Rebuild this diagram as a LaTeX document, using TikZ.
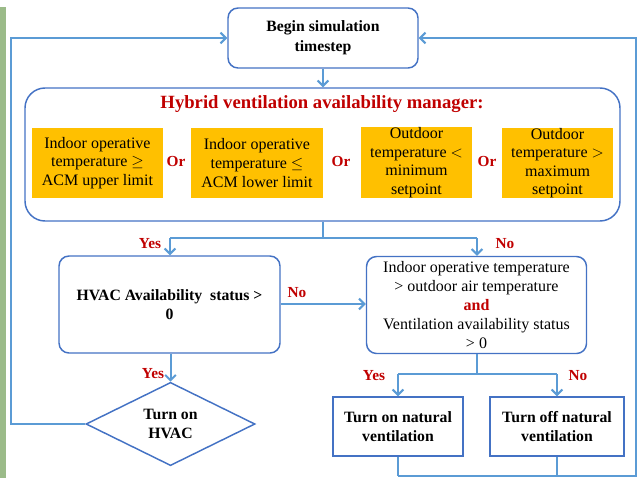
\documentclass[tikz,border=0pt]{standalone}
\usepackage{fontspec}
\setmainfont{Liberation Serif}
\usetikzlibrary{shapes.geometric,arrows.meta}
\definecolor{boxblue}{RGB}{68,114,196}
\definecolor{lineblue}{RGB}{91,155,213}
\definecolor{orangebox}{RGB}{255,192,0}
\definecolor{darkred}{RGB}{192,0,0}
\definecolor{stripgreen}{RGB}{155,187,137}
\begin{document}
\begin{tikzpicture}[x=0.75pt,y=-0.75pt,
  txt/.style={font=\fontsize{12}{13.9}\selectfont, align=center, text=black},
  rbox/.style={txt, draw=boxblue, line width=1.1pt, rounded corners=7.5pt, fill=white, inner sep=0pt},
  sbox/.style={txt, draw=boxblue, line width=1.1pt, fill=white, inner sep=0pt},
  obox/.style={txt, fill=orangebox, inner sep=0pt},
  lbl/.style={font=\fontsize{11.5}{12}\selectfont\bfseries, text=darkred, inner sep=0pt},
  conn/.style={draw=lineblue, line width=1.5pt},
  arr/.style={conn, -{Straight Barb[length=4pt,width=8pt]}}
]
\useasboundingbox (0,0) rectangle (639,479);
\fill[stripgreen] (0,7) rectangle (6,478);

% nodes
\node[rbox, minimum width=142.5pt, minimum height=45pt, font=\fontsize{11.8}{15}\selectfont\bfseries] (begin) at (323,38) {Begin simulation\\timestep};
\node[draw=boxblue, line width=1.1pt, rounded corners=15pt, minimum width=446.25pt, minimum height=99.75pt, inner sep=0pt] (mgr) at (322.5,154.5) {};
\node[font=\fontsize{14}{15}\selectfont\bfseries, text=darkred, inner sep=0pt] (title) at (322,104) {Hybrid ventilation availability manager:};
\node[obox, minimum width=98.25pt, minimum height=52.5pt] (o1) at (97.5,163) {Indoor operative\\temperature $\geq$\\ACM upper limit};
\node[obox, minimum width=99pt, minimum height=52.5pt] (o2) at (257,163) {Indoor operative\\temperature $\leq$\\ACM lower limit};
\node[obox, minimum width=83.25pt, minimum height=51.75pt] (o3) at (416.5,162.5) {Outdoor\\temperature $<$\\minimum\\setpoint};
\node[obox, minimum width=83.25pt, minimum height=52.5pt] (o4) at (557.5,163) {Outdoor\\temperature $>$\\maximum\\setpoint};
\node[lbl] (or1) at (176,161) {Or};
\node[lbl] (or2) at (341,161) {Or};
\node[lbl] (or3) at (487,161) {Or};

\node[rbox, minimum width=165.75pt, minimum height=72.75pt, font=\fontsize{11.8}{14.5}\selectfont\bfseries] (hvac) at (169.5,304.5) {HVAC Availability\ \ status >\\0};
\node[rbox, minimum width=165pt, minimum height=72.75pt, font=\fontsize{12}{14.25}\selectfont] (indoor) at (476.5,305) {Indoor operative temperature\\> outdoor air temperature\\{\color{darkred}\bfseries and}\\Ventilation availability status\\> 0};
\node[txt, shape=diamond, draw=boxblue, line width=1.1pt, fill=white, inner sep=0pt, minimum width=126.75pt, minimum height=43.5pt, font=\fontsize{11.8}{14}\selectfont\bfseries] (hon) at (170.5,424) {Turn on\\HVAC};
\node[sbox, minimum width=97.5pt, minimum height=44.25pt, font=\fontsize{11.8}{14.5}\selectfont\bfseries] (ton) at (398,426.5) {Turn on natural\\ventilation};
\node[sbox, minimum width=100.5pt, minimum height=44.25pt, font=\fontsize{11.8}{14.5}\selectfont\bfseries] (toff) at (557,426.5) {Turn off natural\\ventilation};

% labels
\node[lbl] (y1) at (150,244) {Yes};
\node[lbl] (n1) at (505,244) {No};
\node[lbl] (n2) at (297,293) {No};
\node[lbl] (y2) at (153,374) {Yes};
\node[lbl] (y3) at (374,376) {Yes};
\node[lbl] (n3) at (578,376) {No};

% coordinates
\coordinate (s1) at (323,238);
\coordinate (s1l) at (170,238);
\coordinate (s1r) at (477,238);
\coordinate (s2) at (477,374);
\coordinate (s2l) at (398,374);
\coordinate (s2r) at (557,374);
\coordinate (bl) at (398,476);
\coordinate (br) at (636,476);
\coordinate (tr) at (636,38);
\coordinate (ll) at (11,424);
\coordinate (tl) at (11,38);

% connectors
\draw[arr] (begin.south) -- (mgr.north -| begin.south);
\draw[conn] (mgr.south -| s1) -- (s1);
\draw[conn] (s1l) -- (s1r);
\draw[arr] (s1l) -- (hvac.north -| s1l);
\draw[arr] (s1r) -- (indoor.north -| s1r);
\draw[arr] (hvac.east |- 0,304) -- (indoor.west |- 0,304);
\draw[arr] (hvac.south -| hon.north) -- (hon.north);
\draw[arr] (hon.west) -- (ll) -- (tl) -- (begin.west |- tl);
\draw[conn] (indoor.south -| s2) -- (s2);
\draw[conn] (s2l) -- (s2r);
\draw[arr] (s2l) -- (ton.north -| s2l);
\draw[arr] (s2r) -- (toff.north -| s2r);
\draw[conn] (ton.south) -- (bl);
\draw[conn] (toff.south) -- (toff.south |- bl);
\draw[arr] (bl) -- (br) -- (tr) -- (begin.east |- tr);
\end{tikzpicture}
\end{document}
